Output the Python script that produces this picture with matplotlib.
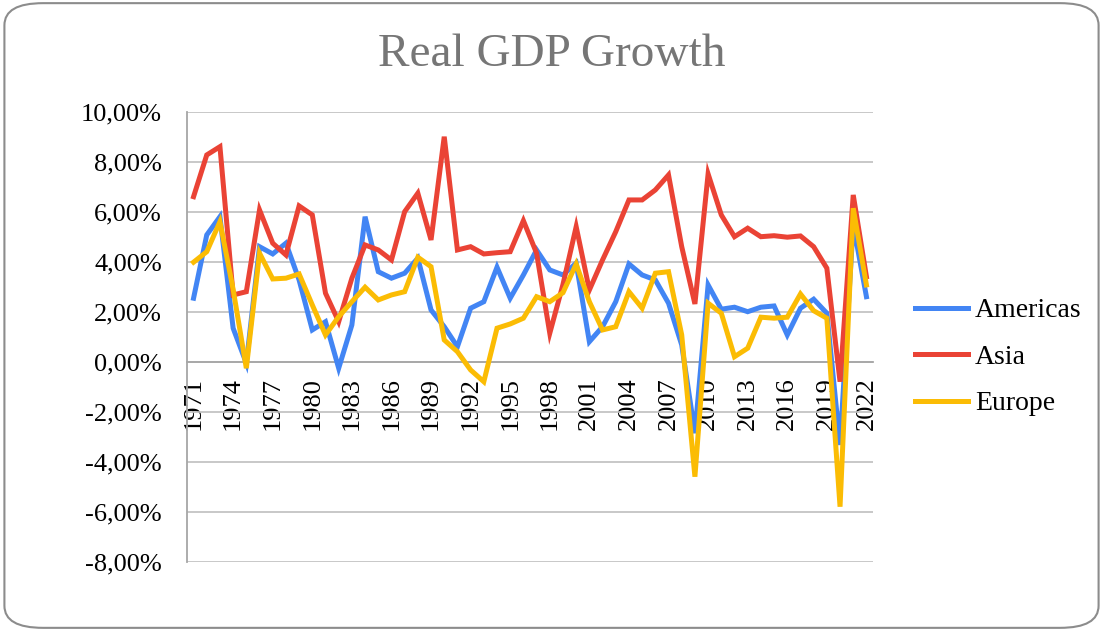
import numpy as np
import matplotlib
matplotlib.use('Agg')
import matplotlib.pyplot as plt
from matplotlib.ticker import FuncFormatter, FixedLocator
from matplotlib.patches import FancyBboxPatch

years = list(range(1971, 2023))

americas = [2.55, 5.08, 5.81, 1.35, -0.05, 4.61, 4.32, 4.75, 3.28, 1.28,
            1.61, -0.25, 1.48, 5.81, 3.61, 3.35, 3.55, 4.15, 2.08, 1.41,
            0.61, 2.15, 2.41, 3.79, 2.55, 3.48, 4.48, 3.68, 3.48, 3.95,
            0.81, 1.41, 2.41, 3.92, 3.48, 3.28, 2.35, 0.68, -2.85, 3.08,
            2.11, 2.19, 2.01, 2.19, 2.24, 1.08, 2.15, 2.51, 1.95, -3.32,
            5.50, 2.61]
asia = [6.61, 8.28, 8.61, 2.68, 2.81, 6.08, 4.75, 4.28, 6.24, 5.88,
        2.75, 1.61, 3.35, 4.68, 4.48, 4.08, 6.01, 6.75, 4.88, 9.01,
        4.48, 4.61, 4.32, 4.37, 4.41, 5.65, 4.35, 1.15, 3.10, 5.41,
        2.88, 4.08, 5.21, 6.48, 6.48, 6.88, 7.48, 4.61, 2.32, 7.52,
        5.88, 5.01, 5.35, 5.01, 5.05, 4.99, 5.04, 4.61, 3.75, -0.79,
        6.68, 3.41]
europe = [3.99, 4.41, 5.61, 2.90, -0.25, 4.35, 3.32, 3.35, 3.52, 2.28,
          1.08, 1.81, 2.41, 2.99, 2.48, 2.68, 2.81, 4.19, 3.81, 0.88,
          0.41, -0.32, -0.79, 1.35, 1.52, 1.75, 2.61, 2.41, 2.77, 3.92,
          2.41, 1.28, 1.41, 2.81, 2.15, 3.55, 3.61, 1.08, -4.59, 2.35,
          1.95, 0.21, 0.55, 1.79, 1.75, 1.79, 2.72, 2.05, 1.75, -5.79,
          6.15, 3.08]

series = [('Americas', americas, '#4285F4'),
          ('Asia', asia, '#EA4335'),
          ('Europe', europe, '#FBBC04')]

serif = ['Liberation Serif', 'DejaVu Serif']

fig = plt.figure(figsize=(11.03, 6.31), dpi=100)
# rounded chart frame
fig.patches.append(FancyBboxPatch((0.004, 0.005), 0.992, 0.99,
                                  boxstyle='round,pad=0,rounding_size=0.035',
                                  transform=fig.transFigure, facecolor='white',
                                  edgecolor='#8c8c8c', linewidth=1.5, zorder=-1))

ax = fig.add_axes([0.1695, 0.1094, 0.622, 0.7132])
ax.patch.set_alpha(0)

x = np.arange(len(years))
for name, vals, col in series:
    ax.plot(x, np.array(vals), color=col, lw=3.6, label=name,
            solid_joinstyle='miter', zorder=3)

ax.set_ylim(-8, 10)
ax.set_xlim(-0.5, len(years) - 0.5)
ax.set_yticks(np.arange(-8, 10.1, 2))
ax.yaxis.set_major_formatter(FuncFormatter(lambda v, p: f'{v:.2f}%'.replace('.', ',')))
ax.grid(axis='y', color='#bfbfbf', lw=1.2, zorder=0)

for s in ['top', 'right']:
    ax.spines[s].set_visible(False)
# x axis crosses at zero (spine move resets ticks, so do it first)
ax.spines['bottom'].set_position(('data', 0))
ax.spines['bottom'].set_color('#a6a6a6')
ax.spines['bottom'].set_linewidth(1.3)
ax.spines['left'].set_color('#a6a6a6')
ax.spines['left'].set_linewidth(1.3)

ticks = x[::3]
ax.xaxis.set_major_locator(FixedLocator(ticks))
ax.set_xticklabels([str(years[i]) for i in ticks])

ax.tick_params(axis='both', length=0, labelsize=19, labelcolor='black')
ax.tick_params(axis='y', pad=18)
ax.tick_params(axis='x', pad=11, labelrotation=90)
for lab in ax.get_xticklabels() + ax.get_yticklabels():
    lab.set_family(serif)

fig.text(0.5, 0.913, 'Real GDP Growth', ha='center', va='center',
         fontsize=34, color='#767676', family=serif)

fig.legend(loc='center left', bbox_to_anchor=(0.817, 0.434), frameon=False,
           prop={'family': serif, 'size': 20}, handlelength=1.9,
           handletextpad=0.25, labelspacing=0.76, borderpad=0)

fig.savefig('out.png', dpi=100)
